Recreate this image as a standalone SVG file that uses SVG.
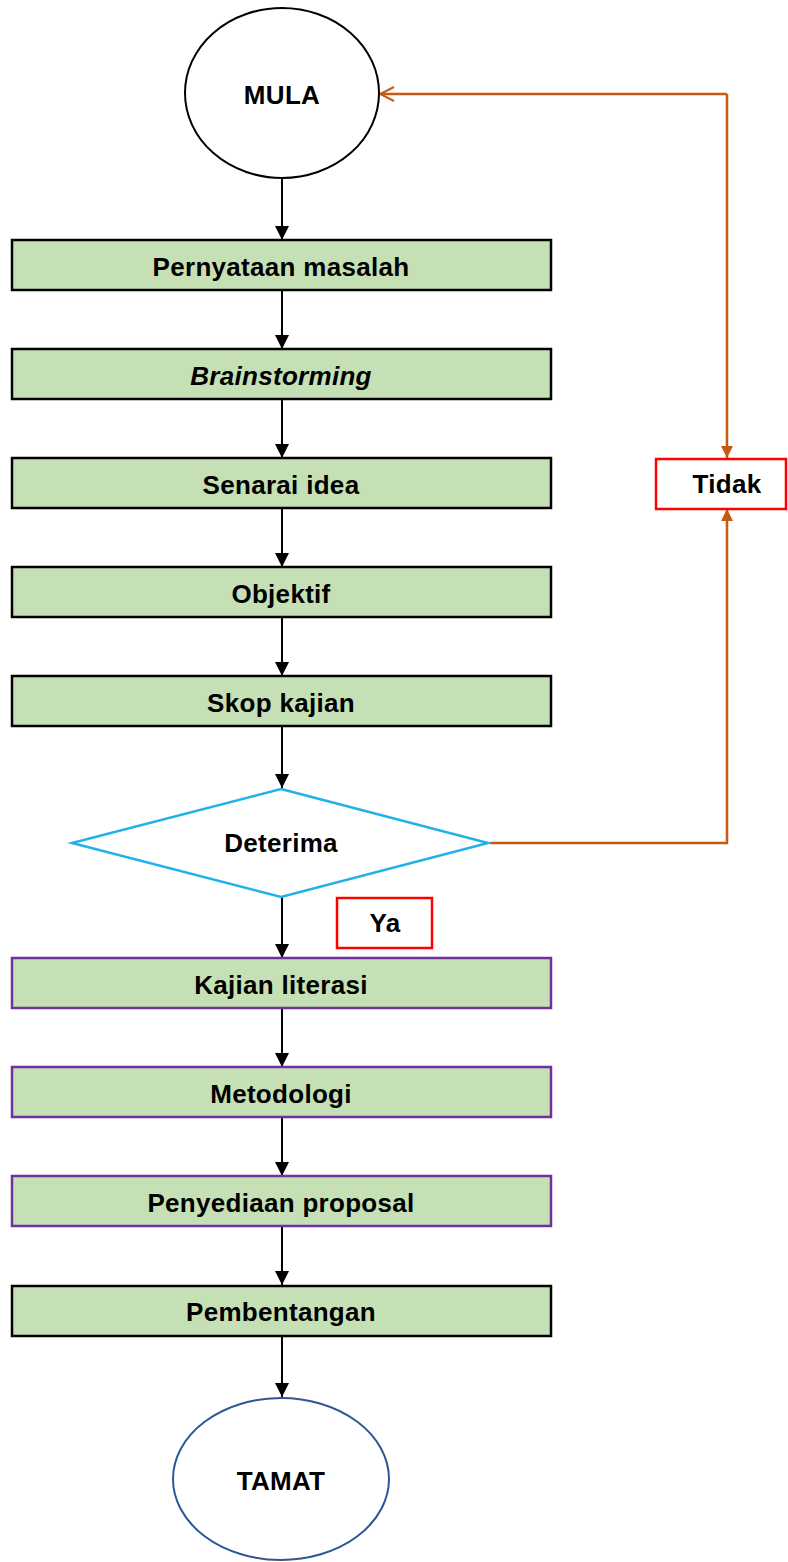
<svg xmlns="http://www.w3.org/2000/svg" width="788" height="1562" viewBox="0 0 788 1562">
<style>
text{font-family:"Liberation Sans",Arial,sans-serif;font-weight:bold;font-size:26px;letter-spacing:0.3px;fill:#000;text-anchor:middle}
.box{fill:#C5E0B4;stroke:#000;stroke-width:2.5}
.pbox{fill:#C5E0B4;stroke:#7030A0;stroke-width:2.5}
.lab{fill:#fff;stroke:#FF0000;stroke-width:2.5}
.blk{stroke:#000;stroke-width:2;fill:none}
.org{stroke:#C55A11;stroke-width:2.5;fill:none}
</style>
<defs>
<marker id="ah" markerWidth="14" markerHeight="14" refX="14" refY="7" orient="auto" markerUnits="userSpaceOnUse"><path d="M0,0 L14,7 L0,14 Z" fill="#000"/></marker>
<marker id="oh" markerWidth="12" markerHeight="12" refX="12" refY="6" orient="auto" markerUnits="userSpaceOnUse"><path d="M0,0 L12,6 L0,12 Z" fill="#C55A11"/></marker>
<marker id="ov" markerWidth="16" markerHeight="16" refX="15" refY="8" orient="auto" markerUnits="userSpaceOnUse"><path d="M1,1 L15,8 L1,15" fill="none" stroke="#C55A11" stroke-width="2"/></marker>
</defs>
<g id="connectors">
<line class="blk" x1="282" y1="178" x2="282" y2="240" marker-end="url(#ah)"/>
<line class="blk" x1="282" y1="290" x2="282" y2="349" marker-end="url(#ah)"/>
<line class="blk" x1="282" y1="399" x2="282" y2="458" marker-end="url(#ah)"/>
<line class="blk" x1="282" y1="508" x2="282" y2="567" marker-end="url(#ah)"/>
<line class="blk" x1="282" y1="617" x2="282" y2="676" marker-end="url(#ah)"/>
<line class="blk" x1="282" y1="726" x2="282" y2="788" marker-end="url(#ah)"/>
<line class="blk" x1="282" y1="897" x2="282" y2="958" marker-end="url(#ah)"/>
<line class="blk" x1="282" y1="1008" x2="282" y2="1067" marker-end="url(#ah)"/>
<line class="blk" x1="282" y1="1117" x2="282" y2="1176" marker-end="url(#ah)"/>
<line class="blk" x1="282" y1="1226" x2="282" y2="1285" marker-end="url(#ah)"/>
<line class="blk" x1="282" y1="1335" x2="282" y2="1397" marker-end="url(#ah)"/>
<polyline class="org" points="490,843 727,843 727,509" marker-end="url(#oh)"/>
<polyline class="org" points="727,94 380,94" marker-end="url(#ov)"/>
<line class="org" x1="727" y1="94" x2="727" y2="458" marker-end="url(#oh)"/>
</g>
<g id="mula"><ellipse cx="282" cy="93" rx="97" ry="85" fill="#fff" stroke="#000" stroke-width="2"/><text x="282" y="104">MULA</text></g>
<g id="pernyataan"><rect class="box" x="12" y="240" width="539" height="50"/><text x="281" y="276">Pernyataan masalah</text></g>
<g id="brainstorming"><rect class="box" x="12" y="349" width="539" height="50"/><text x="281" y="385" style="font-style:italic">Brainstorming</text></g>
<g id="senarai"><rect class="box" x="12" y="458" width="539" height="50"/><text x="281" y="494">Senarai idea</text></g>
<g id="objektif"><rect class="box" x="12" y="567" width="539" height="50"/><text x="281" y="603">Objektif</text></g>
<g id="skop"><rect class="box" x="12" y="676" width="539" height="50"/><text x="281" y="712">Skop kajian</text></g>
<g id="deterima"><polygon points="281,789 488,843 281,897 72,843" fill="#fff" stroke="#21B1E8" stroke-width="2.5"/><text x="281" y="852">Deterima</text></g>
<g id="tidak"><rect class="lab" x="656" y="459" width="130" height="50"/><text x="727" y="493">Tidak</text></g>
<g id="ya"><rect class="lab" x="337" y="898" width="95" height="50"/><text x="385" y="932">Ya</text></g>
<g id="kajian"><rect class="pbox" x="12" y="958" width="539" height="50"/><text x="281" y="994">Kajian literasi</text></g>
<g id="metodologi"><rect class="pbox" x="12" y="1067" width="539" height="50"/><text x="281" y="1103">Metodologi</text></g>
<g id="penyediaan"><rect class="pbox" x="12" y="1176" width="539" height="50"/><text x="281" y="1212">Penyediaan proposal</text></g>
<g id="pembentangan"><rect class="box" x="12" y="1286" width="539" height="50"/><text x="281" y="1321">Pembentangan</text></g>
<g id="tamat"><ellipse cx="281" cy="1479" rx="108" ry="81" fill="#fff" stroke="#2F5597" stroke-width="2"/><text x="281" y="1490">TAMAT</text></g>
</svg>
